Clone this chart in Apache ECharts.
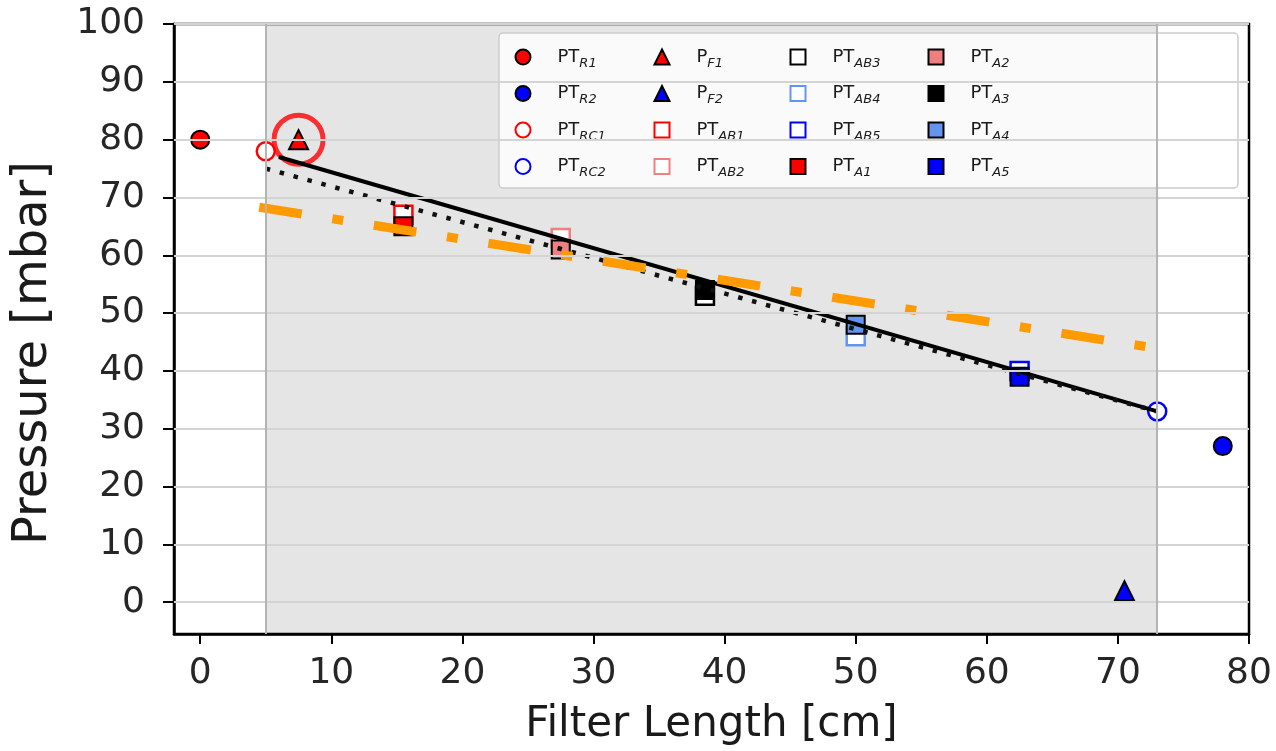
<!DOCTYPE html>
<html>
<head>
<meta charset="utf-8">
<script src="https://cdn.jsdelivr.net/npm/echarts@6/dist/echarts.min.js"></script>
<style>
html, body { margin: 0; padding: 0; background: #fff; }
#main { width: 1276px; height: 751px; }
</style>
</head>
<body>
<div id="main"></div>
<script>
// axis ticks
const xTicks = [0, 10, 20, 30, 40, 50, 60, 70, 80]
const yTicks = [0, 10, 20, 30, 40, 50, 60, 70, 80, 90, 100]
const shadeRange = [5, 73]

// measured points [filter length, pressure]
const ptR1 = [[0, 80]]
const ptR2 = [[78, 27]]
const ptRC1 = [[5, 78]]
const ptRC2 = [[73, 33]]
const pF1 = [[7.5, 80]]
const pF2 = [[70.5, 2]]
const ptAB1 = [[15.5, 67]]
const ptAB2 = [[27.5, 63]]
const ptAB3 = [[38.5, 53]]
const ptAB4 = [[50, 46]]
const ptAB5 = [[62.5, 40]]
const ptA1 = [[15.5, 65]]
const ptA2 = [[27.5, 61]]
const ptA3 = [[38.5, 54]]
const ptA4 = [[50, 48]]
const ptA5 = [[62.5, 39]]

// fitted lines
const solidFit = [[6, 77], [73, 33]]
const dottedFit = [[5, 75], [73, 33]]
const orangeFit = [[4.5, 68.3], [73, 43.9]]

const FONT = 'DejaVu Sans'

function marker(name, data, symbol, fill, edge, bw, size) {
    return {
        name: name,
        type: 'scatter',
        data: data,
        symbol: symbol,
        symbolSize: size || 18,
        itemStyle: {color: fill, borderColor: edge, borderWidth: bw, opacity: 1},
        emphasis: {disabled: true},
        animation: false
    }
}

function legendCol(left, names) {
    return {
        orient: 'vertical',
        left: left,
        top: 44,
        padding: 0,
        itemWidth: 15,
        itemHeight: 15,
        itemGap: 10.5,
        selectedMode: false,
        data: names,
        formatter: n => {
            const p = n.split('_')
            return p[0] + '{s|' + p[1] + '}'
        },
        textStyle: {
            fontFamily: FONT,
            fontSize: 18,
            color: '#1a1a1a',
            lineHeight: 26,
            padding: [0, 0, 0, 22],
            rich: {
                s: {fontFamily: FONT, fontSize: 13, fontStyle: 'italic', lineHeight: 13, verticalAlign: 'bottom', color: '#1a1a1a'}
            }
        }
    }
}

const chart = echarts.init(document.getElementById('main'))
chart.setOption({
    backgroundColor: '#fff',
    animation: false,
    grid: {
        left: 174, right: 27, top: 24, bottom: 115,
        show: true, borderColor: '#000', borderWidth: 2.5, backgroundColor: '#fff'
    },
    xAxis: {
        type: 'value', min: -2, max: 80,
        name: 'Filter Length [cm]',
        nameLocation: 'middle',
        nameGap: 70,
        nameTextStyle: {fontFamily: FONT, fontSize: 42, color: '#1a1a1a'},
        axisLine: {show: true, onZero: false, lineStyle: {color: '#000', width: 2.5}},
        axisTick: {show: true, length: 10, lineStyle: {color: '#000', width: 2}, customValues: xTicks},
        axisLabel: {customValues: xTicks, fontFamily: FONT, fontSize: 36, color: '#262626', margin: 22},
        splitLine: {show: false}
    },
    yAxis: {
        type: 'value', min: -5.5, max: 100,
        name: 'Pressure [mbar]',
        nameLocation: 'middle',
        nameGap: 116,
        nameTextStyle: {fontFamily: FONT, fontSize: 48, color: '#1a1a1a', padding: [0, 48, 0, 0]},
        axisLine: {show: true, onZero: false, lineStyle: {color: '#000', width: 2.5}},
        axisTick: {show: true, length: 11, lineStyle: {color: '#000', width: 2}, customValues: yTicks},
        axisLabel: {customValues: yTicks, fontFamily: FONT, fontSize: 36, color: '#262626', margin: 29},
        splitLine: {show: false}
    },
    legend: [
        legendCol(514.5, ['PT_R1', 'PT_R2', 'PT_RC1', 'PT_RC2']),
        legendCol(653.5, ['P_F1', 'P_F2', 'PT_AB1', 'PT_AB2']),
        legendCol(789.5, ['PT_AB3', 'PT_AB4', 'PT_AB5', 'PT_A1']),
        legendCol(927.5, ['PT_A2', 'PT_A3', 'PT_A4', 'PT_A5'])
    ],
    graphic: {
        elements: [{
            type: 'rect',
            z: 3,
            shape: {x: 499, y: 33, width: 739, height: 155, r: 4},
            style: {fill: 'rgba(255,255,255,0.8)', stroke: '#cccccc', lineWidth: 1.5}
        }]
    },
    series: [
        {
            name: 'background',
            type: 'line',
            data: [],
            silent: true,
            markArea: {
                silent: true,
                itemStyle: {color: 'rgba(0,0,0,0.1)'},
                data: [[{xAxis: shadeRange[0]}, {xAxis: shadeRange[1]}]]
            },
            markLine: {
                silent: true,
                symbol: ['none', 'none'],
                label: {show: false},
                lineStyle: {color: '#d4d4d4', width: 2, type: 'solid'},
                data: yTicks.map(v => ({yAxis: v}))
                    .concat(shadeRange.map(v => ({xAxis: v, lineStyle: {color: '#b4b4b4', width: 2}})))
            }
        },
        {
            name: 'fit',
            type: 'line',
            data: solidFit,
            symbol: 'none',
            lineStyle: {color: '#000', width: 4},
            silent: true
        },
        {
            name: 'fit2',
            type: 'line',
            data: dottedFit,
            symbol: 'none',
            lineStyle: {color: '#111', width: 4.5, type: [4.5, 9.9], cap: 'butt'},
            silent: true
        },
        marker('PT_R1', ptR1, 'circle', '#ff0000', '#000', 2),
        marker('PT_R2', ptR2, 'circle', '#0000ff', '#000', 2),
        marker('PT_RC1', ptRC1, 'circle', '#ffffff', '#ff0000', 2.5),
        marker('PT_RC2', ptRC2, 'circle', '#ffffff', '#0000ff', 2.5),
        marker('P_F1', pF1, 'triangle', '#ff0000', '#000', 2, 19),
        marker('P_F2', pF2, 'triangle', '#0000ff', '#000', 2, 19),
        marker('PT_AB1', ptAB1, 'rect', '#ffffff', '#ff0000', 2.5),
        marker('PT_AB2', ptAB2, 'rect', '#ffffff', '#f08080', 2.5),
        marker('PT_AB3', ptAB3, 'rect', '#ffffff', '#000000', 2.5),
        marker('PT_AB4', ptAB4, 'rect', '#ffffff', '#6495ed', 2.5),
        marker('PT_AB5', ptAB5, 'rect', '#ffffff', '#0000ff', 2.5),
        marker('PT_A1', ptA1, 'rect', '#ff0000', '#000', 2),
        marker('PT_A2', ptA2, 'rect', '#f08080', '#000', 2),
        marker('PT_A3', ptA3, 'rect', '#000000', '#000', 2),
        marker('PT_A4', ptA4, 'rect', '#6495ed', '#000', 2),
        marker('PT_A5', ptA5, 'rect', '#0000ff', '#000', 2),
        {
            name: 'fit3',
            type: 'line',
            data: orangeFit,
            symbol: 'none',
            lineStyle: {color: '#ff9a00', width: 9, type: [43, 31, 11, 31], cap: 'butt'},
            silent: true
        },
        {
            name: 'highlight',
            type: 'scatter',
            data: pF1,
            symbol: 'circle',
            symbolSize: 49,
            itemStyle: {color: 'rgba(0,0,0,0)', borderColor: '#ff0000', borderWidth: 5},
            silent: true
        }
    ]
})
window.addEventListener('resize', () => chart.resize())
</script>
</body>
</html>
